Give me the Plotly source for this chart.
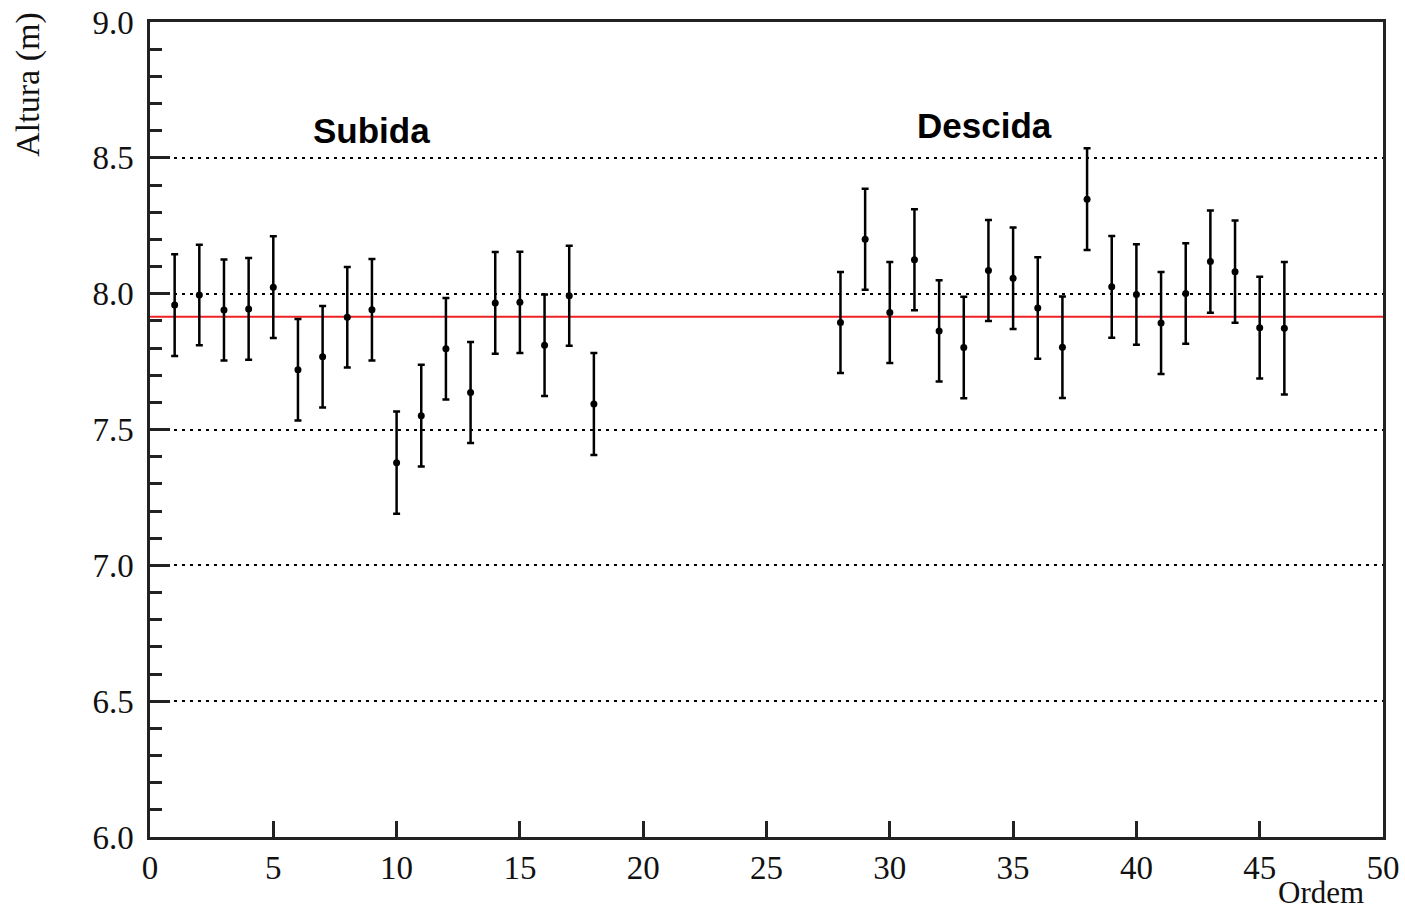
import plotly.graph_objects as go

# Measured heights per run order: ascent ("Subida") and descent ("Descida")
ordem_subida = [1, 2, 3, 4, 5, 6, 7, 8, 9, 10, 11, 12, 13, 14, 15, 16, 17, 18]
altura_subida = [7.958, 7.995, 7.940, 7.944, 8.024, 7.720, 7.768, 7.913, 7.941,
                 7.378, 7.551, 7.797, 7.636, 7.966, 7.968, 7.810, 7.992, 7.594]
erro_subida = [0.187, 0.185, 0.186, 0.187, 0.187, 0.187, 0.187, 0.185, 0.187,
               0.188, 0.187, 0.187, 0.186, 0.187, 0.186, 0.187, 0.184, 0.188]

ordem_descida = [28, 29, 30, 31, 32, 33, 34, 35, 36, 37, 38, 39, 40, 41, 42, 43, 44, 45, 46]
altura_descida = [7.894, 8.200, 7.931, 8.125, 7.863, 7.802, 8.085, 8.057, 7.947, 7.803,
                  8.348, 8.025, 7.997, 7.892, 8.001, 8.118, 8.081, 7.875, 7.873]
erro_descida = [0.186, 0.186, 0.186, 0.186, 0.186, 0.187, 0.186, 0.187, 0.187, 0.187,
                0.187, 0.187, 0.185, 0.188, 0.185, 0.188, 0.188, 0.187, 0.244]

altura_media = 7.915
x_range = [0, 50]
y_range = [6.0, 9.0]

fig = go.Figure()

# Mean height reference line
fig.add_trace(go.Scatter(
    x=x_range, y=[altura_media, altura_media], mode="lines",
    line=dict(color="#ee2222", width=2), hoverinfo="skip", showlegend=False,
))

for xs, ys, es in [(ordem_subida, altura_subida, erro_subida),
                   (ordem_descida, altura_descida, erro_descida)]:
    fig.add_trace(go.Scatter(
        x=xs, y=ys, mode="markers",
        marker=dict(color="black", size=7),
        error_y=dict(type="data", array=es, visible=True,
                     color="black", thickness=2.5, width=3.5),
        showlegend=False,
    ))

serif = "Liberation Serif, Times New Roman, serif"
sans = "Liberation Sans, Arial, sans-serif"
axis_color = "#222222"

fig.update_xaxes(
    range=x_range, dtick=5, tick0=0, automargin=False,
    showline=True, linecolor=axis_color, linewidth=2.5, mirror=True,
    ticks="inside", ticklen=16, tickwidth=2.5, tickcolor=axis_color,
    showgrid=False, zeroline=False, ticklabelstandoff=0,
    tickfont=dict(family=serif, size=33, color="#111111"),
)
fig.update_yaxes(
    range=y_range, dtick=0.5, tick0=6.0, tickformat=".1f", automargin=False,
    showline=True, linecolor=axis_color, linewidth=2.5, mirror=True,
    ticks="inside", ticklen=20, tickwidth=2.5, tickcolor=axis_color,
    minor=dict(dtick=0.1, ticks="inside", ticklen=12, tickwidth=2.5,
               tickcolor=axis_color, showgrid=False),
    showgrid=True, gridcolor="black", gridwidth=2, griddash="3px,5px",
    zeroline=False, ticklabelstandoff=7,
    tickfont=dict(family=serif, size=33, color="#111111"),
)

fig.add_annotation(text="Subida", x=9.0, y=8.60, xref="x", yref="y",
                   showarrow=False,
                   font=dict(family=sans, size=35, color="black", weight="bold"),
                   xanchor="center", yanchor="middle")
fig.add_annotation(text="Descida", x=33.85, y=8.62, xref="x", yref="y",
                   showarrow=False,
                   font=dict(family=sans, size=35, color="black", weight="bold"),
                   xanchor="center", yanchor="middle")

fig.add_annotation(text="Altura (m)", x=-0.099, y=0.923, xref="paper", yref="paper",
                   textangle=-90, showarrow=False,
                   font=dict(family=serif, size=34, color="#111111"),
                   xanchor="center", yanchor="middle")
fig.add_annotation(text="Ordem", x=0.9862, y=-0.068, xref="paper", yref="paper",
                   showarrow=False, font=dict(family=serif, size=31, color="#111111"),
                   xanchor="right", yanchor="middle")

fig.update_layout(
    width=1405, height=910,
    margin=dict(l=150, r=22, t=22, b=73),
    plot_bgcolor="white", paper_bgcolor="white",
)

fig.write_html("out.html")
